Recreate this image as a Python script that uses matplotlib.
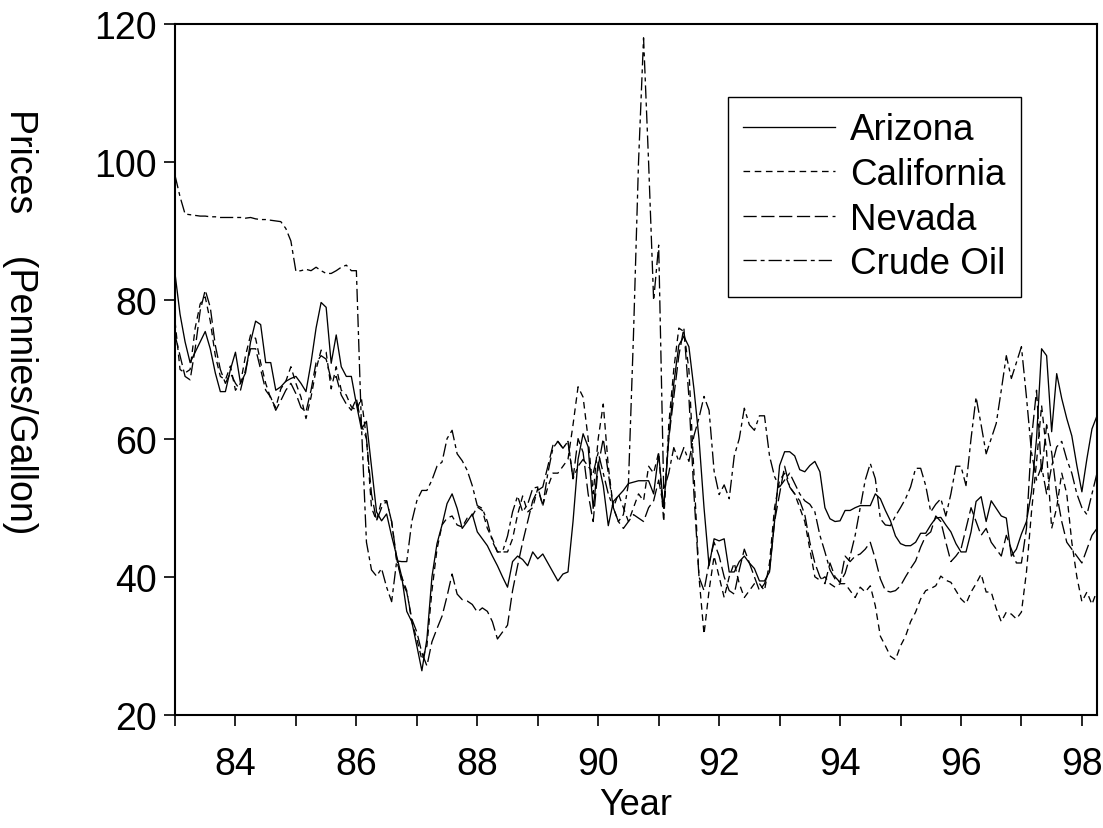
import matplotlib
matplotlib.use("Agg")
import matplotlib.pyplot as plt
import numpy as np

plt.rcParams['font.family'] = ['Liberation Sans', 'DejaVu Sans']

start_year = 1983
tick_years = list(range(1983, 1999))
tick_labels = [str(y % 100) if y % 2 == 0 else '' for y in tick_years]
y_ticks = [20, 40, 60, 80, 100, 120]

arizona = [
    83.9, 78.0, 74.0, 71.0, 72.5, 74.0, 75.5, 73.0, 69.5, 66.8, 66.8, 70.0,
    72.5, 68.0, 69.5, 74.0, 77.0, 76.5, 71.0, 71.0, 67.0, 67.5, 68.3, 68.7,
    69.0, 68.0, 66.8, 71.0, 76.0, 79.7, 79.0, 70.9, 75.0, 70.4, 69.0, 69.0,
    65.0, 61.4, 62.5, 56.0, 49.4, 48.1, 49.1, 45.9, 43.0, 40.0, 35.0, 33.5,
    30.0, 26.4, 31.0, 40.0, 44.8, 47.5, 50.6, 52.0, 49.9, 47.0, 48.0, 49.1,
    46.5, 45.5, 44.5, 43.0, 41.6, 40.0, 38.5, 42.2, 43.0, 42.5, 41.6, 43.6,
    42.6, 43.3, 42.0, 40.7, 39.4, 40.4, 40.7, 48.0, 57.0, 60.7, 58.8, 49.9,
    56.6, 53.2, 47.4, 50.9, 51.7, 52.5, 53.5, 53.7, 53.9, 53.9, 53.9, 52.0,
    57.8, 49.9, 60.0, 68.0, 73.5, 74.8, 73.3, 67.2, 60.0, 50.0, 41.6, 45.5,
    45.2, 45.5, 40.7, 40.7, 42.2, 43.0, 42.0, 41.2, 39.4, 39.4, 40.7, 48.0,
    56.1, 58.1, 58.1, 57.5, 55.5, 55.2, 56.1, 56.7, 55.2, 50.0, 48.4, 48.0,
    48.1, 49.6, 49.6, 50.0, 50.3, 50.3, 50.3, 52.0, 51.3, 49.6, 48.1, 45.9,
    44.8, 44.5, 44.5, 45.0, 46.3, 46.3, 47.5, 48.5, 48.6, 47.5, 46.5, 44.8,
    43.6, 43.6, 46.5, 50.9, 51.6, 48.0, 51.0, 49.9, 48.8, 48.5, 43.0, 44.0,
    46.2, 48.0, 52.3, 60.0, 73.0, 72.0, 61.0, 69.4, 65.8, 62.9, 60.4, 56.1,
    52.3, 57.1, 61.4, 63.3,
]

california = [
    77.0, 70.0, 69.5, 70.0, 76.0, 79.5, 80.5, 77.0, 72.0, 69.0, 68.5, 70.5,
    67.0, 68.0, 72.0, 75.0, 74.5, 71.0, 68.0, 65.8, 64.5, 67.2, 68.3, 70.4,
    68.0, 66.0, 62.9, 66.0, 70.0, 72.8, 72.5, 67.2, 70.4, 67.0, 66.3, 64.6,
    64.1, 65.8, 60.0, 50.0, 48.1, 51.0, 51.0, 48.0, 42.2, 40.0, 38.0, 33.5,
    31.0, 28.0, 30.0, 38.0, 44.0, 47.5, 48.5, 48.8, 47.5, 47.2, 48.5, 48.8,
    50.1, 49.6, 47.0, 45.5, 43.6, 43.6, 43.6, 45.5, 49.0, 51.7, 49.4, 50.0,
    52.8, 50.3, 53.0, 55.0, 55.0, 56.0, 57.0, 62.0, 67.5, 66.0, 60.0, 52.0,
    60.0, 65.0, 56.0, 50.0, 52.0, 50.0, 48.0, 50.0, 52.0, 51.0, 56.0, 55.0,
    58.0, 48.0, 62.0, 70.0, 76.0, 75.5, 70.0, 55.0, 40.0, 31.7, 38.0, 43.0,
    40.0, 37.0, 40.0, 42.0, 39.0, 37.0, 38.0, 39.0, 39.0, 38.0, 42.0, 50.0,
    54.0, 55.0, 53.0, 52.0, 50.0, 48.0, 44.0, 40.0, 39.5, 40.0, 39.0, 38.5,
    39.0, 39.0, 38.0, 37.0, 38.5, 37.8, 38.7, 35.8, 31.4, 30.0, 28.5, 28.0,
    30.0, 31.4, 33.5, 34.9, 36.8, 38.0, 38.3, 38.7, 40.1, 39.5, 39.2, 38.0,
    36.8, 36.1, 37.8, 39.0, 40.4, 37.8, 37.8, 35.4, 33.5, 34.9, 34.6, 33.9,
    34.9, 40.7, 49.4, 56.6, 64.8, 58.0, 47.0, 50.0, 55.0, 52.0, 45.0, 40.0,
    36.4, 37.8, 36.0, 38.0,
]

nevada = [
    75.0, 72.0, 69.0, 68.5, 73.0, 78.5, 81.5, 79.0, 73.5, 70.0, 68.0, 69.5,
    68.0, 67.0, 70.0, 73.0, 73.0, 70.0, 67.0, 66.0, 64.1, 65.5, 67.0, 68.0,
    66.5, 64.5, 63.9, 67.0, 71.0, 72.0, 71.5, 68.5, 69.0, 66.3, 65.0, 64.1,
    65.8, 62.0, 60.0, 52.0, 48.1, 50.0, 51.0, 48.0, 42.6, 39.3, 37.8, 33.9,
    32.0, 29.0, 27.1, 30.6, 32.5, 34.3, 37.2, 40.4, 37.5, 36.7, 36.5, 36.0,
    34.9, 35.5, 35.0, 33.5, 31.0, 32.0, 33.0, 38.0, 41.6, 45.0, 48.0, 51.0,
    52.5, 53.0, 56.0, 59.0, 59.6, 58.6, 59.6, 54.2, 60.0, 58.0, 52.0, 48.0,
    56.0, 60.0, 55.0, 50.0, 48.0, 47.0, 48.0, 49.0, 48.5, 48.0, 50.0, 51.0,
    54.0, 50.0, 60.0, 66.0, 72.0, 76.0, 66.0, 52.0, 40.0, 38.0, 42.0, 45.0,
    43.0, 40.0, 38.0, 37.5, 41.0, 44.0, 42.0, 40.0, 38.0, 39.0, 41.0, 48.0,
    52.0, 56.0, 53.0, 52.0, 51.0, 49.0, 45.0, 42.0, 40.0, 39.0, 42.0, 40.0,
    39.2, 43.0, 42.2, 43.0, 43.3, 44.0, 45.0, 42.6, 39.7, 38.0, 37.8, 38.0,
    38.7, 40.0, 41.2, 42.3, 44.3, 45.9, 46.5, 48.8, 48.0, 45.0, 42.2, 43.0,
    44.0, 47.0, 50.0, 48.0, 46.0, 47.0, 45.0, 44.0, 43.0, 46.0, 44.0, 42.0,
    42.0, 47.0, 60.0, 67.0, 55.0, 62.0, 58.0, 52.0, 48.0, 45.0, 44.0, 43.0,
    42.0, 44.0, 46.0, 47.0,
]

crude_oil = [
    98.1, 95.0, 92.5, 92.4, 92.3, 92.2, 92.2, 92.1, 92.1, 92.0, 92.0, 92.0,
    92.0, 92.0, 91.9, 92.0, 91.8, 91.7, 91.7, 91.6, 91.5, 91.4, 90.4, 88.6,
    84.2, 84.3, 84.5, 84.3, 84.8, 84.3, 83.9, 83.9, 84.3, 84.8, 85.1, 84.3,
    84.3, 62.0, 45.0, 41.0, 40.1, 41.2, 38.5, 36.4, 42.3, 42.2, 42.2, 48.0,
    51.0, 52.5, 52.5, 54.0, 56.0, 56.6, 60.0, 61.2, 57.8, 56.8, 55.4, 53.2,
    50.3, 49.9, 48.0, 45.1, 43.6, 43.6, 45.9, 49.4, 51.7, 49.4, 50.5, 52.8,
    53.0, 50.3, 55.0, 58.6, 59.6, 58.6, 59.6, 54.2, 56.0, 57.0, 56.0, 55.0,
    58.0, 55.0, 52.0, 50.0, 48.0, 49.0, 53.5, 75.0, 100.0, 118.0, 100.0, 80.0,
    88.0, 52.5, 55.0, 58.7, 56.7, 58.7, 56.7, 60.4, 63.0, 66.1, 64.1, 55.3,
    51.9, 53.3, 51.3, 57.5, 60.0, 64.4, 62.0, 61.2, 63.3, 63.3, 57.5, 54.5,
    53.0, 54.0, 55.0, 53.5, 52.0, 51.0, 50.5, 49.4, 46.0, 43.6, 41.0, 39.7,
    39.2, 40.5, 43.0, 46.0, 50.0, 54.0, 56.4, 54.2, 48.4, 47.5, 47.4, 48.8,
    50.0, 51.3, 53.0, 55.7, 55.7, 53.2, 49.4, 50.5, 51.3, 48.8, 52.0, 56.0,
    56.0, 53.2, 60.0, 66.0, 62.0, 57.8, 60.0, 62.2, 67.0, 72.0, 68.7, 71.0,
    73.3, 66.0, 58.0, 54.0, 56.0, 52.0, 56.0, 58.8, 59.6, 57.0, 55.0, 52.0,
    50.0, 49.0, 52.0, 55.0,
]

n = len(arizona)
dates = start_year + np.arange(n) / 12.0

fig = plt.figure(figsize=(11.03, 8.29), dpi=100)
ax = fig.add_axes([175 / 1103, 1 - 716 / 829, (1097 - 175) / 1103, (716 - 25) / 829])

lw = 0.95
ax.plot(dates, arizona, color='black', lw=lw, linestyle='-', label='Arizona')
ax.plot(dates, california, color='black', lw=lw, dashes=(5, 3.5), label='California')
ax.plot(dates, nevada, color='black', lw=lw, dashes=(10, 3.5), label='Nevada')
ax.plot(dates, crude_oil, color='black', lw=lw, dashes=(10, 3, 3, 3), label='Crude Oil')

ax.set_xlim(dates[0], dates[-1])
ax.set_ylim(20, 120)
ax.set_xticks(tick_years)
ax.set_xticklabels(tick_labels)
ax.set_yticks(y_ticks)
ax.set_yticklabels([str(v) for v in y_ticks])

for s in ax.spines.values():
    s.set_linewidth(1.5)
ax.tick_params(axis='both', direction='out', length=8, width=1.2, labelsize=27, colors='black')
ax.tick_params(axis='x', pad=14)
ax.tick_params(axis='y', pad=5)

ax.set_xlabel('Year', fontsize=26, labelpad=4)
fig.text(20 / 1103, 1 - 322 / 829, 'Prices    (Pennies/Gallon)', rotation=-90,
         fontsize=27, ha='center', va='center')

leg = ax.legend(loc='upper left', bbox_to_anchor=(728 / 1103, 1 - 98 / 829),
                bbox_transform=fig.transFigure, borderaxespad=0, fontsize=26.5,
                frameon=True, fancybox=False, edgecolor='black', framealpha=1,
                handlelength=2.5, handletextpad=0.4, labelspacing=0.26,
                borderpad=0.42)
leg.get_frame().set_linewidth(1.0)

fig.savefig('out.png', dpi=100)
